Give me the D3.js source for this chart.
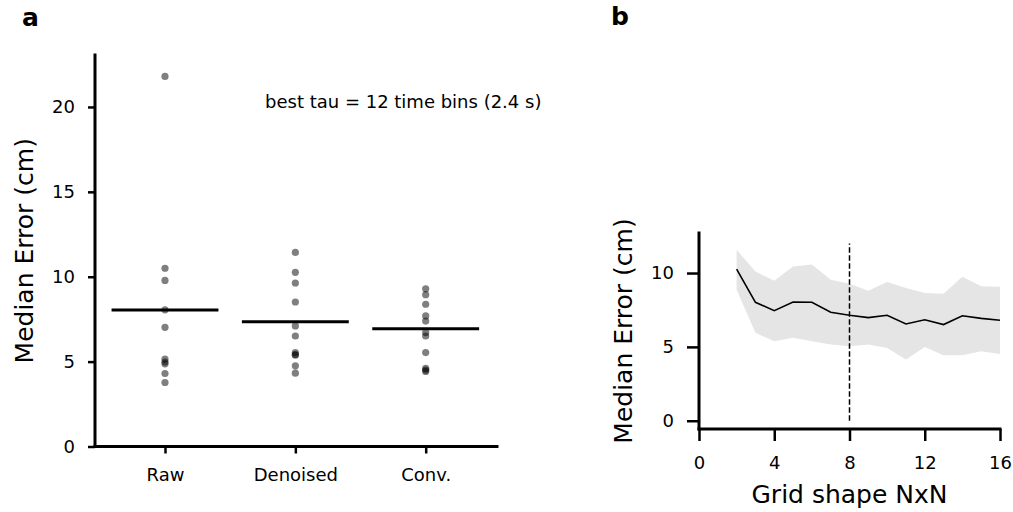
<!DOCTYPE html>
<html>
<head>
<meta charset="utf-8">
<script src="https://cdn.jsdelivr.net/npm/d3@7"></script>
<style>
  html, body { margin: 0; padding: 0; background: #fff; }
  svg { display: block; font-family: "DejaVu Sans", sans-serif; }
</style>
</head>
<body>
<svg id="chart" width="1013" height="512"></svg>
<script>
// ---------- Panel a data ----------
const categories = ["Raw", "Denoised", "Conv."];
const rawValues = [21.8, 10.5, 9.78, 8.05, 7.02, 5.15, 4.97, 4.87, 4.3, 3.77];
const denoisedValues = [11.43, 10.26, 9.63, 8.51, 7.1, 6.51, 5.53, 5.42, 5.38, 4.75, 4.32];
const convValues = [9.29, 8.94, 8.38, 7.69, 7.39, 6.71, 6.51, 5.53, 4.6, 4.5, 4.42];
const medians = [8.04, 7.35, 6.94];
const yTicksA = [0, 5, 10, 15, 20];
const annotation = "best tau = 12 time bins (2.4 s)";

// ---------- Panel b data ----------
const gridN = [2, 3, 4, 5, 6, 7, 8, 9, 10, 11, 12, 13, 14, 15, 16];
const medianErr = [10.27, 8.02, 7.45, 8.04, 8.02, 7.34, 7.14, 6.98, 7.14, 6.55, 6.84, 6.51, 7.11, 6.93, 6.8];
const upperErr = [11.57, 10.11, 9.48, 10.45, 10.58, 9.55, 9.28, 8.8, 9.39, 8.98, 8.65, 8.6, 9.75, 9.1, 9.07];
const lowerErr = [8.87, 5.95, 5.38, 5.61, 5.38, 5.16, 5.04, 5.16, 4.93, 4.14, 5.0, 4.43, 4.43, 4.7, 4.52];
const bestN = 8;
const xTicksB = [0, 4, 8, 12, 16];
const yTicksB = [0, 5, 10];

const svg = d3.select("#chart");

// ================= Panel a =================
const groupsA = [rawValues, denoisedValues, convValues];
const xA = d3.scaleLinear().domain([-0.537, 2.547]).range([95, 497]);
const yA = d3.scaleLinear().domain([0, 23.06]).range([446.5, 55]);

const gA = svg.append("g");

// y axis
const yAxisA = d3.axisLeft(yA).tickValues(yTicksA).tickSize(7).tickPadding(13).tickFormat(d3.format("d"));
const gyA = gA.append("g").attr("transform", `translate(${xA.range()[0]},0)`).call(yAxisA);
// x axis
const xAxisA = d3.axisBottom(xA).tickValues([0, 1, 2]).tickSize(7).tickPadding(13)
  .tickFormat(i => categories[i]);
const gxA = gA.append("g").attr("transform", `translate(0,${yA.range()[0]})`).call(xAxisA);

[gyA, gxA].forEach(g => {
  g.select(".domain").attr("stroke", "#000").attr("stroke-width", 3).attr("stroke-linecap", "square");
  g.selectAll(".tick line").attr("stroke", "#000").attr("stroke-width", 2.5);
  g.selectAll(".tick text").attr("fill", "#000").style("font-size", "18px").style("font-family", "DejaVu Sans");
});
gyA.select(".domain").attr("d", `M0,${yA.range()[0]}V${yA.range()[1]}`);
gxA.select(".domain").attr("d", `M${xA.range()[0]},0H${xA.range()[1]}`);
gxA.selectAll(".tick text").attr("dy", null).attr("y", 34);

// dots
groupsA.forEach((vals, i) => {
  gA.append("g").selectAll("circle").data(vals).join("circle")
    .attr("cx", xA(i))
    .attr("cy", d => yA(d))
    .attr("r", 3.6)
    .attr("fill", "#000")
    .attr("fill-opacity", 0.5);
});

// median lines
gA.append("g").selectAll("line").data(medians).join("line")
  .attr("x1", (d, i) => xA(i - 0.41))
  .attr("x2", (d, i) => xA(i + 0.41))
  .attr("y1", d => yA(d))
  .attr("y2", d => yA(d))
  .attr("stroke", "#000")
  .attr("stroke-width", 3);

// annotation
gA.append("text")
  .attr("x", 265).attr("y", 107.5)
  .style("font-size", "18px")
  .attr("fill", "#000")
  .text(annotation);

// y label
gA.append("text")
  .attr("transform", `translate(33,${(yA.range()[0] + yA.range()[1]) / 2}) rotate(-90)`)
  .attr("text-anchor", "middle")
  .style("font-size", "25px")
  .attr("fill", "#000")
  .text("Median Error (cm)");

// panel label
svg.append("text").attr("x", 22).attr("y", 26)
  .style("font-size", "25px").style("font-weight", "bold").text("a");

// ================= Panel b =================
const xB = d3.scaleLinear().domain([0, 16]).range([699, 1000]);
const yB = d3.scaleLinear().domain([-0.56, 12.71]).range([429, 233]);
const gB = svg.append("g");

// band
const area = d3.area()
  .x((d, i) => xB(gridN[i]))
  .y0((d, i) => yB(lowerErr[i]))
  .y1((d, i) => yB(upperErr[i]));
gB.append("path").datum(gridN).attr("d", area).attr("fill", "#e5e5e5");

// median line
const line = d3.line().x((d, i) => xB(gridN[i])).y((d, i) => yB(medianErr[i]));
gB.append("path").datum(medianErr).attr("d", line)
  .attr("fill", "none").attr("stroke", "#000").attr("stroke-width", 1.6);

// dashed best line
gB.append("line")
  .attr("x1", xB(bestN)).attr("x2", xB(bestN))
  .attr("y1", yB(0)).attr("y2", yB(12))
  .attr("stroke", "#000").attr("stroke-width", 1.5).attr("stroke-dasharray", "5.5,2.5");

// axes
const yAxisB = d3.axisLeft(yB).tickValues(yTicksB).tickSize(12).tickPadding(13).tickFormat(d3.format("d"));
const gyB = gB.append("g").attr("transform", `translate(${xB.range()[0]},0)`).call(yAxisB);
const xAxisB = d3.axisBottom(xB).tickValues(xTicksB).tickSize(12).tickPadding(13).tickFormat(d3.format("d"));
const gxB = gB.append("g").attr("transform", `translate(0,${yB.range()[0]})`).call(xAxisB);
[gyB, gxB].forEach(g => {
  g.select(".domain").attr("stroke", "#000").attr("stroke-width", 3).attr("stroke-linecap", "square");
  g.selectAll(".tick line").attr("stroke", "#000").attr("stroke-width", 2.5);
  g.selectAll(".tick text").attr("fill", "#000").style("font-size", "18px").style("font-family", "DejaVu Sans");
});
gyB.select(".domain").attr("d", `M0,${yB.range()[0]}V${yB.range()[1]}`);
gxB.select(".domain").attr("d", `M${xB.range()[0]},0H${xB.range()[1]}`);
gxB.selectAll(".tick text").attr("dy", null).attr("y", 40);

// labels
gB.append("text")
  .attr("transform", `translate(632,${(yB.range()[0] + yB.range()[1]) / 2}) rotate(-90)`)
  .attr("text-anchor", "middle")
  .style("font-size", "25px")
  .attr("fill", "#000")
  .text("Median Error (cm)");
gB.append("text")
  .attr("x", (xB.range()[0] + xB.range()[1]) / 2).attr("y", 503)
  .attr("text-anchor", "middle")
  .style("font-size", "25px")
  .attr("fill", "#000")
  .text("Grid shape NxN");

svg.append("text").attr("x", 611).attr("y", 25)
  .style("font-size", "25px").style("font-weight", "bold").text("b");
</script>
</body>
</html>
